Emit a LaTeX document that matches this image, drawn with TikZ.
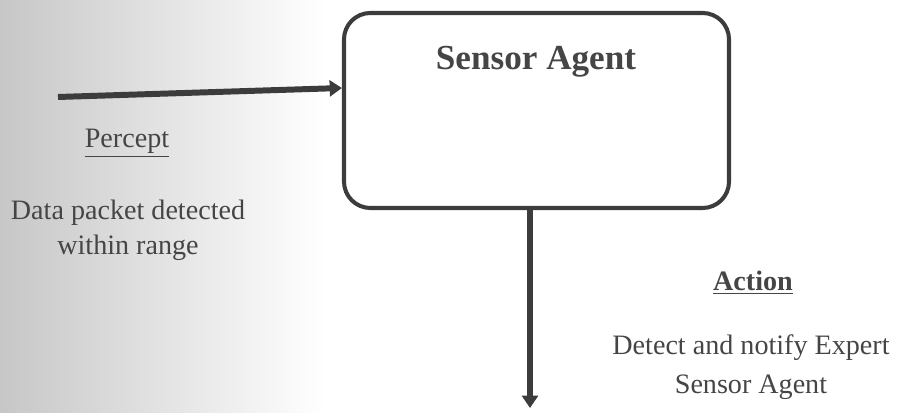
\documentclass[tikz,border=0pt]{standalone}
\usepackage{fontspec}
\setmainfont{Liberation Serif}
\usetikzlibrary{arrows.meta}
\definecolor{ink}{HTML}{3C3C3C}
\definecolor{txt}{HTML}{454545}
\begin{document}
\begin{tikzpicture}[
    agent/.style = {shape=rectangle, rounded corners=15pt, draw=ink, line width=2.3pt,
                    minimum width=7.70cm, minimum height=3.90cm},
     flow/.style = {draw=ink, line width=3.4pt, -{Triangle[length=7pt,width=9pt]}},
      txt/.style = {text=txt, font=\fontsize{16}{20}\selectfont, align=center},
     head/.style = {text=txt, font=\fontsize{20}{24}\selectfont\bfseries}
                    ]
\useasboundingbox (0,0) rectangle (18.02,8.26);
\shade[left color=black!22, right color=white] (0,0) rectangle (6.5,8.26);

\node[agent] (agent) at (10.73,6.05) {};
\node[head] (title) at (10.72,7.02) {Sensor Agent};

\coordinate (in) at (1.16,6.32);
\coordinate (out) at (10.60,0.10);

\node[txt] (percept) at (2.54,5.40) {\underline{Percept}};
\node[txt] (pdesc) at (2.56,3.66) {Data packet detected\\within range};
\node[txt, font=\fontsize{16}{20}\selectfont\bfseries] (action) at (15.06,2.60) {\underline{Action}};
\node[txt, font=\fontsize{16}{22.5}\selectfont] (adesc) at (15.02,0.92) {Detect and notify Expert\\Sensor Agent};

\draw[flow] (in) -- ([yshift=0.45cm]agent.west);
\draw[flow] ([xshift=-0.13cm]agent.south) -- (out);

\end{tikzpicture}
\end{document}
